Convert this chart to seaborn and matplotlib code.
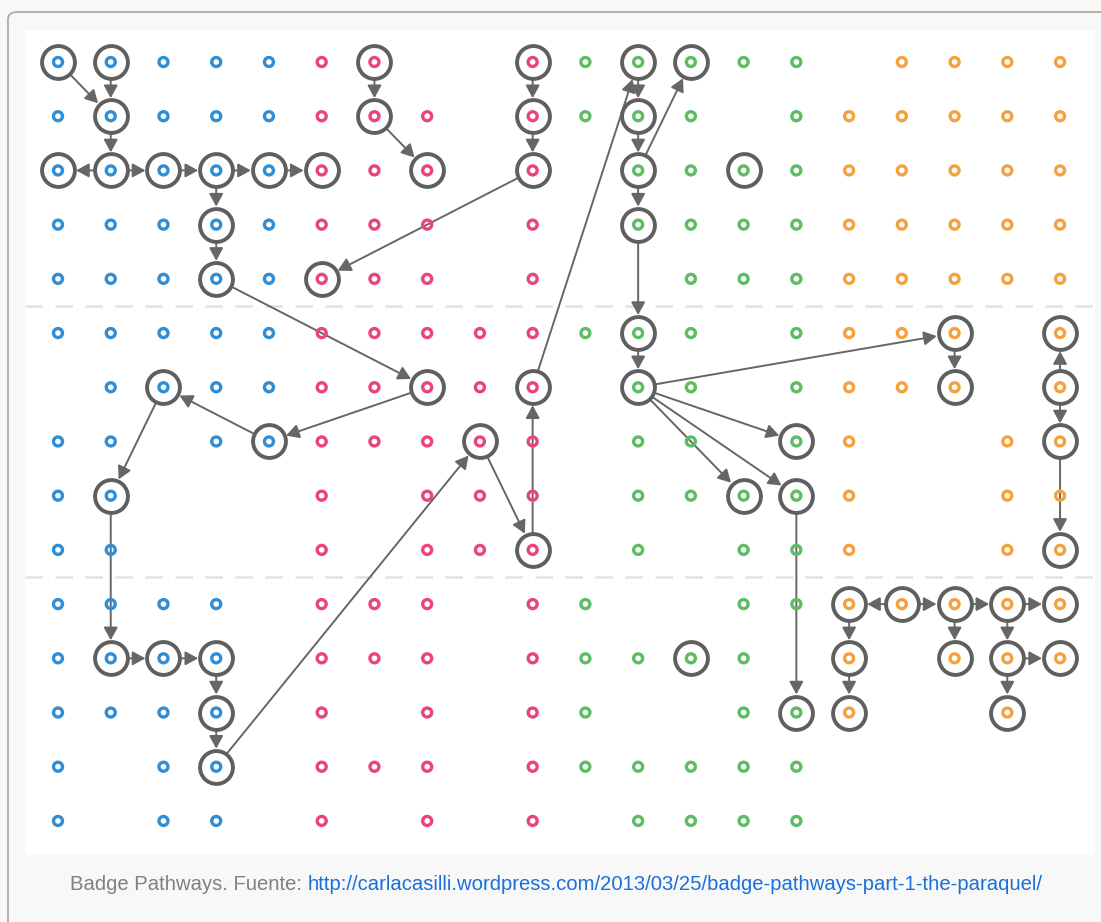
import matplotlib
matplotlib.use("Agg")
import matplotlib.pyplot as plt
from matplotlib.patches import FancyBboxPatch
import seaborn as sns
import pandas as pd

# badge grid: one string per row, 'o' = badge present, '.' = empty cell
grid_rows = [
    "ooooooo..oooooo.oooo",
    "oooooooo.oooo.oooooo",
    "oooooooo.o.ooooooooo",
    "oooooooo.o.ooooooooo",
    "oooooooo.o..oooooooo",
    "ooooooooooooo.oooo.o",
    ".ooooooooo.oo.oooo.o",
    "oo.ooooooo.oo.oo..oo",
    "oo...o.ooo.ooooo..oo",
    "oo...o.ooo.o.ooo..oo",
    "oooo.ooo.oo..ooooooo",
    "oooo.ooo.ooooo.o.ooo",
    "oooo.o.o.oo..ooo..o.",
    "o.oo.ooo.oooooo.....",
    "o.oo.o.o.o.oooo.....",
]
groups = ["blue", "pink", "green", "orange"]  # five columns each
group_colors = ["#2f8ed6", "#e9447f", "#5dbd62", "#f5a13d"]

# badges earned (row, col)
earned = [
    (0, 0), (0, 1), (0, 6), (0, 9), (0, 11), (0, 12),
    (1, 1), (1, 6), (1, 9), (1, 11),
    (2, 0), (2, 1), (2, 2), (2, 3), (2, 4), (2, 5), (2, 7), (2, 9), (2, 11), (2, 13),
    (3, 3), (3, 11),
    (4, 3), (4, 5),
    (5, 11), (5, 17), (5, 19),
    (6, 2), (6, 7), (6, 9), (6, 11), (6, 17), (6, 19),
    (7, 4), (7, 8), (7, 14), (7, 19),
    (8, 1), (8, 13), (8, 14),
    (9, 9), (9, 19),
    (10, 15), (10, 16), (10, 17), (10, 18), (10, 19),
    (11, 1), (11, 2), (11, 3), (11, 12), (11, 15), (11, 17), (11, 18), (11, 19),
    (12, 3), (12, 14), (12, 15), (12, 18),
    (13, 3),
]

# pathway links (from (row, col), to (row, col))
links = [
    ((0, 0), (1, 1)), ((0, 1), (1, 1)), ((1, 1), (2, 1)), ((2, 1), (2, 0)),
    ((2, 1), (2, 2)), ((2, 2), (2, 3)), ((2, 3), (2, 4)), ((2, 4), (2, 5)),
    ((2, 3), (3, 3)), ((3, 3), (4, 3)), ((4, 3), (6, 7)),
    ((0, 6), (1, 6)), ((1, 6), (2, 7)),
    ((0, 9), (1, 9)), ((1, 9), (2, 9)), ((2, 9), (4, 5)),
    ((0, 11), (1, 11)), ((1, 11), (2, 11)), ((2, 11), (3, 11)), ((2, 11), (0, 12)),
    ((3, 11), (5, 11)), ((6, 9), (0, 11)), ((5, 11), (6, 11)),
    ((6, 11), (5, 17)), ((6, 11), (7, 14)), ((6, 11), (8, 14)), ((6, 11), (8, 13)),
    ((5, 17), (6, 17)), ((6, 19), (5, 19)), ((6, 19), (7, 19)), ((7, 19), (9, 19)),
    ((6, 7), (7, 4)), ((7, 4), (6, 2)), ((6, 2), (8, 1)), ((8, 1), (11, 1)),
    ((11, 1), (11, 2)), ((11, 2), (11, 3)), ((11, 3), (12, 3)), ((12, 3), (13, 3)),
    ((13, 3), (7, 8)), ((7, 8), (9, 9)), ((9, 9), (6, 9)),
    ((8, 14), (12, 14)),
    ((10, 16), (10, 15)), ((10, 16), (10, 17)), ((10, 17), (10, 18)), ((10, 18), (10, 19)),
    ((10, 15), (11, 15)), ((11, 15), (12, 15)), ((10, 17), (11, 17)),
    ((11, 18), (11, 19)), ((10, 18), (11, 18)), ((11, 18), (12, 18)),
]
section_breaks = [4.5, 9.5]
caption = "Badge Pathways. Fuente: "
caption_url = "http://carlacasilli.wordpress.com/2013/03/25/badge-pathways-part-1-the-paraquel/"

cells = pd.DataFrame(
    [(c, r, groups[c // 5]) for r, line in enumerate(grid_rows)
     for c, ch in enumerate(line) if ch == "o"],
    columns=["col", "row", "group"],
)
done = pd.DataFrame(earned, columns=["row", "col"])

W, H = 1101, 922
fig = plt.figure(figsize=(W / 100, H / 100), dpi=100, facecolor="#f8f8f8")
fig.patches.append(FancyBboxPatch(
    (8 / W, -0.2), 1.2, 1 - 12 / H + 0.2,
    boxstyle="round,pad=0,rounding_size=0.008",
    transform=fig.transFigure, facecolor="#f8f8f8", edgecolor="#b3aa9e",
    linewidth=1.3, zorder=-5))

ax = fig.add_axes([25 / W, (H - 855) / H, 1070 / W, 825 / H])
ax.set_facecolor("white")
ax.set_xlim((25 - 58) / 52.74, (1095 - 58) / 52.74)
ax.set_ylim((855 - 62) / 54.21, (30 - 62) / 54.21)
ax.axis("off")
ax.add_patch(plt.Rectangle((0, 0), 1, 1, transform=ax.transAxes,
                           facecolor="white", edgecolor="none", zorder=-1))

for yb in section_breaks:
    ax.axhline(yb, color="#e2e2e2", lw=1.8, dashes=(7, 5), zorder=0)

for (r0, c0), (r1, c1) in links:
    ax.annotate("", xy=(c1, r1), xytext=(c0, r0),
                arrowprops=dict(arrowstyle="-|>,head_length=0.55,head_width=0.3",
                                color="#666666", lw=1.4, shrinkA=13, shrinkB=13,
                                mutation_scale=14),
                zorder=2)

sns.scatterplot(data=done, x="col", y="row", ax=ax, s=560, marker="o",
                facecolor="white", edgecolor="#5f5f5f", linewidth=2.8,
                legend=False, zorder=3)

sns.scatterplot(data=cells, x="col", y="row", hue="group", hue_order=groups,
                palette=group_colors, ax=ax, s=42, marker="o", linewidth=2.4,
                legend=False, zorder=4)
dots = ax.collections[-1]
dots.set_edgecolors(dots.get_facecolors())
dots.set_facecolors("none")

t1 = fig.text(70 / W, (H - 884) / H, caption, color="#808080",
              fontsize=14.6, family="Liberation Sans", va="center")
fig.canvas.draw()
bb = t1.get_window_extent()
fig.text(bb.x1 / W, (H - 884) / H, caption_url, color="#1b6fd8",
         fontsize=14.6, family="Liberation Sans", va="center")

fig.savefig("out.png", dpi=100, facecolor=fig.get_facecolor())
